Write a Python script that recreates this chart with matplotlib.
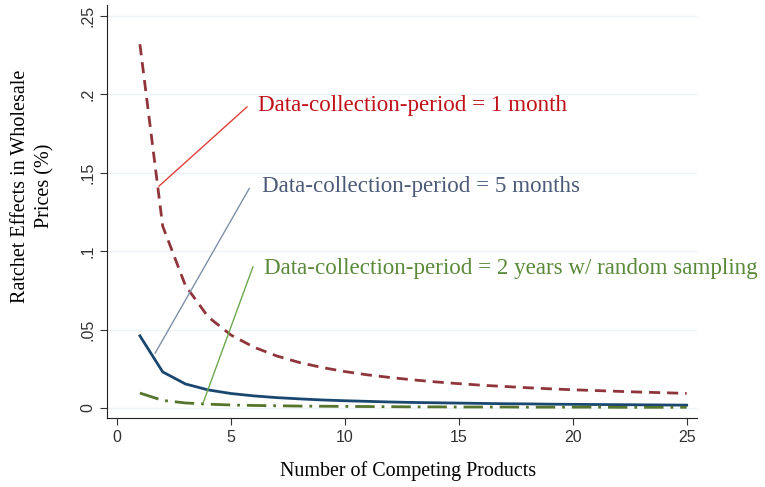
import matplotlib
matplotlib.use("Agg")
import matplotlib.pyplot as plt

# values
products = list(range(1, 26))
one_month = [0.232, 0.116, 0.078, 0.058, 0.0465, 0.0388, 0.0332, 0.029, 0.0258, 0.0232,
             0.0211, 0.0194, 0.0179, 0.0166, 0.0155, 0.0145, 0.0137, 0.0129, 0.0122, 0.0116,
             0.0111, 0.0106, 0.0101, 0.0097, 0.0093]
five_months = [0.046, 0.023, 0.0153, 0.0115, 0.0092, 0.0077, 0.0066, 0.0058, 0.0051, 0.0046,
               0.0042, 0.0038, 0.0035, 0.0033, 0.0031, 0.0029, 0.0027, 0.0026, 0.0024, 0.0023,
               0.0022, 0.0021, 0.002, 0.0019, 0.0018]
two_years = [0.0095, 0.0048, 0.0032, 0.0024, 0.0019, 0.0016, 0.0014, 0.0012, 0.0011, 0.001,
             0.0009, 0.0008, 0.0007, 0.0007, 0.0006, 0.0006, 0.0006, 0.0005, 0.0005, 0.0005,
             0.0005, 0.0004, 0.0004, 0.0004, 0.0004]

yticks = [0, 0.05, 0.1, 0.15, 0.2, 0.25]
ytick_labels = ["0", ".05", ".1", ".15", ".2", ".25"]
xticks = [0, 5, 10, 15, 20, 25]

# annotations: (label, line start, line end, text position, line colour, text colour)
notes = [
    ("Data-collection-period = 1 month", (1.84, 0.1415), (5.7, 0.192), (6.2, 0.193), "#e0403a", "#c01018"),
    ("Data-collection-period = 5 months", (1.67, 0.035), (5.8, 0.140), (6.35, 0.141), "#8090a8", "#4a5a78"),
    ("Data-collection-period = 2 years w/ random sampling", (3.77, 0.003), (5.96, 0.090), (6.45, 0.089), "#6aa84f", "#5a8a3a"),
]

fig = plt.figure(figsize=(7.65, 4.87), dpi=100)
ax = fig.add_axes([0.140, 0.1417, 0.771, 0.848])

# light Stata-like grid
for t in yticks:
    ax.axhline(t, color="#eef4f5", linewidth=1.0, zorder=0)

ax.plot(products, one_month, color="#90353b", linewidth=2, linestyle=(0, (4, 2.5)))
ax.plot(products, five_months, color="#1a476f", linewidth=2)
ax.plot(products, two_years, color="#55752f", linewidth=2, linestyle=(0, (7, 2.5, 1, 2.5)))

for label, start, end, pos, lc, tc in notes:
    ax.plot([start[0], end[0]], [start[1], end[1]], color=lc, linewidth=1)
    ax.text(pos[0], pos[1], label, color=tc, fontsize=16.6, family="Liberation Serif",
            va="center", ha="left", clip_on=False)

ax.set_xlim(-0.44, 25.45)
ax.set_ylim(-0.0064, 0.257)
ax.set_xticks(xticks)
ax.set_yticks(yticks)
ax.set_yticklabels(ytick_labels, rotation=90, va="center")
ax.tick_params(labelsize=11.5, colors="#333333", length=5, labelcolor="#333333")
for lab in ax.get_xticklabels() + ax.get_yticklabels():
    lab.set_family("Liberation Sans")

ax.spines["top"].set_visible(False)
ax.spines["right"].set_visible(False)
ax.spines["left"].set_color("#222222")
ax.spines["bottom"].set_color("#222222")

ax.set_xlabel("Number of Competing Products", fontsize=14.4, family="Liberation Serif")
ax.set_ylabel("Ratchet Effects in Wholesale\nPrices (%)", fontsize=14.5, family="Liberation Serif",
              linespacing=1.35)
ax.xaxis.set_label_coords(0.51, -0.105)
ax.yaxis.set_label_coords(-0.089, 0.562)

fig.savefig("out.png", dpi=100)
